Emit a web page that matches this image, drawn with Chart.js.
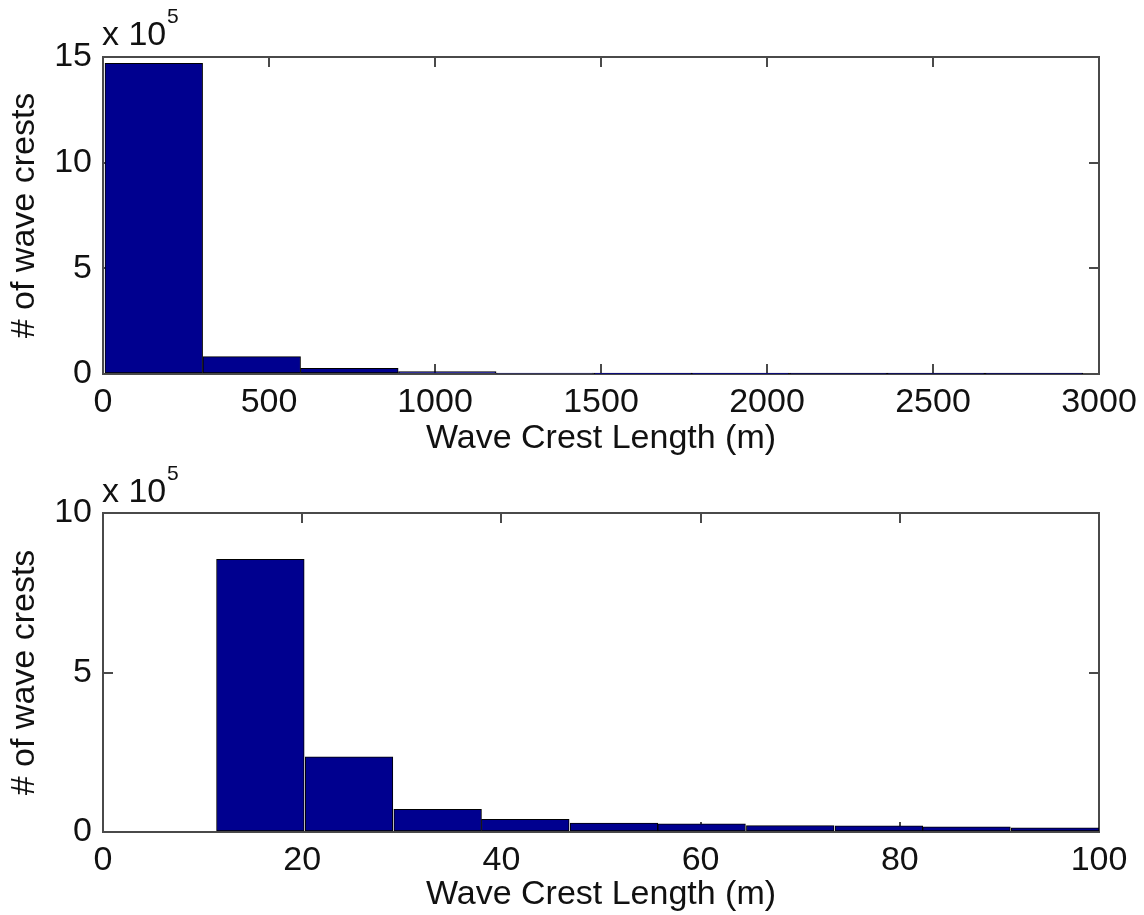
<!DOCTYPE html>
<html><head><meta charset="utf-8">
<script src="https://cdn.jsdelivr.net/npm/chart.js@4/dist/chart.umd.min.js"></script>
<style>
body{margin:0;background:#fff;}
#wrap{position:relative;width:1144px;height:915px;overflow:hidden;font-family:"Liberation Sans",Arial,sans-serif;color:#111;}
.cv{position:absolute;left:0;}
.mult{position:absolute;font-size:34px;line-height:34px;white-space:nowrap;}
.sup{position:absolute;font-size:21px;line-height:21px;}
</style></head><body>
<div id="wrap">
<div class="cv" style="top:0"><canvas id="c1" width="1144" height="457"></canvas></div>
<div class="cv" style="top:457px"><canvas id="c2" width="1144" height="458"></canvas></div>
<span class="mult" style="left:102px;top:16px">x 10</span>
<span class="sup" style="left:167px;top:5px">5</span>
<span class="mult" style="left:102px;top:473px">x 10</span>
<span class="sup" style="left:167px;top:462px">5</span>
</div>
<script>
// Top panel: bin centres (m) and counts
const topBinCenters = [153, 448, 742, 1037, 1331, 1626, 1920, 2215, 2509, 2804];
const topCounts = [1470000, 82000, 27000, 11000, 3500, 1500, 600, 300, 150, 100];
const topXTicks = [0, 500, 1000, 1500, 2000, 2500, 3000];
const topYTicks = [0, 5, 10, 15]; // x 10^5

// Bottom panel: bin centres (m) and counts
const bottomBinCenters = [15.8, 24.7, 33.6, 42.4, 51.3, 60.1, 69.0, 77.9, 86.7, 95.6];
const bottomCounts = [855000, 236000, 71000, 40000, 28000, 26000, 20000, 19000, 16000, 13000];
const bottomXTicks = [0, 20, 40, 60, 80, 100];
const bottomYTicks = [0, 5, 10]; // x 10^5

const yScaleFactor = 1e5;
const xTitle = 'Wave Crest Length (m)';
const yTitle = '# of wave crests';

const AX = '#4a4a4a';
const TXT = '#111';
const FONT = '"Liberation Sans", Arial, sans-serif';
const BAR = '#00008F';

function makeChart(id, centers, counts, xTicks, yTicks, dims) {
  const xMin = xTicks[0], xMax = xTicks[xTicks.length - 1];
  const yMin = yTicks[0] * yScaleFactor, yMax = yTicks[yTicks.length - 1] * yScaleFactor;
  const xt = s => { s.ticks = xTicks.map(v => ({value: v})); };
  const yt = s => { s.ticks = yTicks.map(v => ({value: v * yScaleFactor})); };
  const fixH = h => s => { s.height = h; s.paddingLeft = 0; s.paddingRight = 0; };
  const fixW = w => s => { s.width = w; s.paddingTop = 0; s.paddingBottom = 0; };
  const grid = {drawOnChartArea: false, drawTicks: true, tickLength: -10, color: AX, lineWidth: 2, offset: false};
  const border = {display: true, color: AX, width: 2};
  return new Chart(document.getElementById(id), {
    type: 'bar',
    data: {
      datasets: [{
        data: centers.map((c, i) => ({x: c, y: counts[i]})),
        backgroundColor: BAR,
        borderColor: '#000',
        borderWidth: 1,
        borderSkipped: false,
        barPercentage: 1,
        categoryPercentage: 1
      }]
    },
    options: {
      responsive: false,
      animation: false,
      devicePixelRatio: 1,
      layout: {padding: 0},
      plugins: {legend: {display: false}, tooltip: {enabled: false}},
      scales: {
        x: {
          type: 'linear', position: 'bottom', min: xMin, max: xMax, offset: false,
          afterBuildTicks: xt,
          afterFit: fixH(dims.bottom),
          grid: grid, border: border,
          ticks: {font: {family: FONT, size: 34}, color: TXT, padding: 18, maxRotation: 0, autoSkip: false, callback: v => String(v)},
          title: {display: true, text: xTitle, color: TXT, font: {family: FONT, size: 34, lineHeight: 1}, padding: {top: 0, bottom: dims.titlePad}}
        },
        x2: {
          type: 'linear', position: 'top', min: xMin, max: xMax, offset: false,
          afterBuildTicks: xt,
          afterFit: fixH(dims.top),
          grid: grid, border: border,
          ticks: {display: false}
        },
        y: {
          type: 'linear', position: 'left', min: yMin, max: yMax,
          afterBuildTicks: yt,
          afterFit: fixW(103),
          grid: grid, border: border,
          ticks: {font: {family: FONT, size: 34}, color: TXT, padding: 21, callback: v => String(v / yScaleFactor)},
          title: {display: true, text: yTitle, color: TXT, font: {family: FONT, size: 34, lineHeight: 1}, padding: {top: 8, bottom: 0}}
        },
        y2: {
          type: 'linear', position: 'right', min: yMin, max: yMax,
          afterBuildTicks: yt,
          afterFit: fixW(45),
          grid: grid, border: border,
          ticks: {display: false}
        }
      }
    }
  });
}

makeChart('c1', topBinCenters, topCounts, topXTicks, topYTicks, {top: 57, bottom: 83, titlePad: 1});
makeChart('c2', bottomBinCenters, bottomCounts, bottomXTicks, bottomYTicks, {top: 56, bottom: 83, titlePad: 3});
</script>
</body></html>
